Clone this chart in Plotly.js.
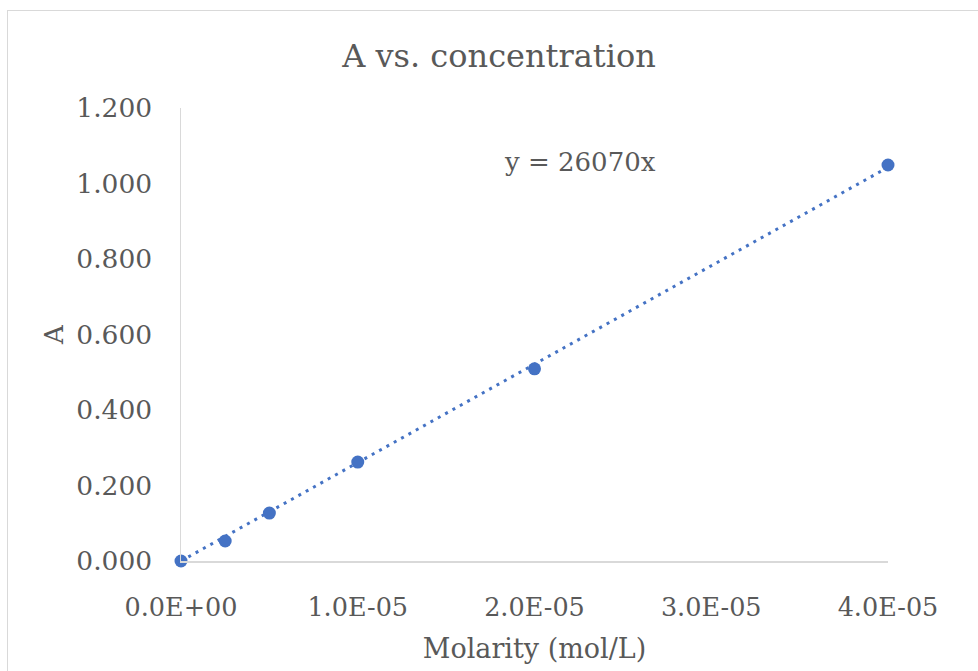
<!DOCTYPE html>
<html>
<head>
<meta charset="utf-8">
<script src="https://cdn.plot.ly/plotly-3.0.1.min.js"></script>
<style>
  html, body { margin: 0; padding: 0; background: #ffffff; overflow: hidden; }
  #frame { position: absolute; left: 7px; top: 10px; width: 1100px; height: 800px; border: 1px solid #d9d9d9; box-sizing: border-box; }
  #chart { position: absolute; left: 0; top: 0; width: 978px; height: 671px; }
</style>
</head>
<body>
<div id="frame"></div>
<div id="chart"></div>
<script>
// Data
const molarity = [0, 2.5e-6, 5e-6, 1e-5, 2e-5, 4e-5];
const absorbance = [0.000, 0.053, 0.127, 0.262, 0.509, 1.049];
const trendSlope = [26070];
const xTickVals = [0, 1e-5, 2e-5, 3e-5, 4e-5];
const xTickText = ["0.0E+00", "1.0E-05", "2.0E-05", "3.0E-05", "4.0E-05"];
const yTickVals = [0, 0.2, 0.4, 0.6, 0.8, 1.0, 1.2];
const yTickText = ["0.000", "0.200", "0.400", "0.600", "0.800", "1.000", "1.200"];

const trendX = [molarity[0], molarity[molarity.length - 1]];
const trendY = trendX.map(v => trendSlope[0] * v);

const blue = "#4472C4";
const textGray = "#595959";
const font = "DejaVu Serif";

const traces = [
  {
    x: trendX, y: trendY, type: "scatter", mode: "lines",
    line: { color: blue, width: 3, dash: "3px,5.4px" },
    hoverinfo: "skip", showlegend: false
  },
  {
    x: molarity, y: absorbance, type: "scatter", mode: "markers",
    marker: { color: blue, size: 13 },
    showlegend: false, cliponaxis: false
  }
];

const layout = {
  width: 978, height: 671,
  paper_bgcolor: "rgba(0,0,0,0)",
  plot_bgcolor: "rgba(0,0,0,0)",
  margin: { l: 181, r: 90, t: 108, b: 110 },
  font: { family: font, color: textGray },
  title: {
    text: "A vs. concentration",
    font: { family: font, size: 32, color: textGray },
    x: 499 / 978, xanchor: "center", xref: "container",
    y: 1 - 56 / 671, yref: "container", yanchor: "middle"
  },
  xaxis: {
    range: [0, 4e-5], autorange: false,
    tickvals: xTickVals, ticktext: xTickText,
    showgrid: false, zeroline: false,
    showline: true, linecolor: "#d9d9d9", linewidth: 1.5,
    ticks: "", ticklabelstandoff: 23,
    tickfont: { family: font, size: 25.5, color: textGray },
    title: { text: "Molarity (mol/L)", font: { family: font, size: 27, color: textGray }, standoff: 18 }
  },
  yaxis: {
    range: [0, 1.2], autorange: false,
    tickvals: yTickVals, ticktext: yTickText,
    showgrid: false, zeroline: false,
    showline: true, linecolor: "#d9d9d9", linewidth: 1.5,
    ticks: "", ticklabelstandoff: 22,
    tickfont: { family: font, size: 26.5, color: textGray },
    title: { text: "A", font: { family: font, size: 26, color: textGray }, standoff: 5 }
  },
  annotations: [
    {
      text: "y = 26070x", showarrow: false,
      xref: "paper", yref: "paper",
      x: (580 - 181) / 707, y: (561 - 162) / 453,
      xanchor: "center", yanchor: "middle",
      font: { family: font, size: 26, color: textGray }
    }
  ],
  showlegend: false
};

Plotly.newPlot("chart", traces, layout, { displayModeBar: false, staticPlot: true });
</script>
</body>
</html>
